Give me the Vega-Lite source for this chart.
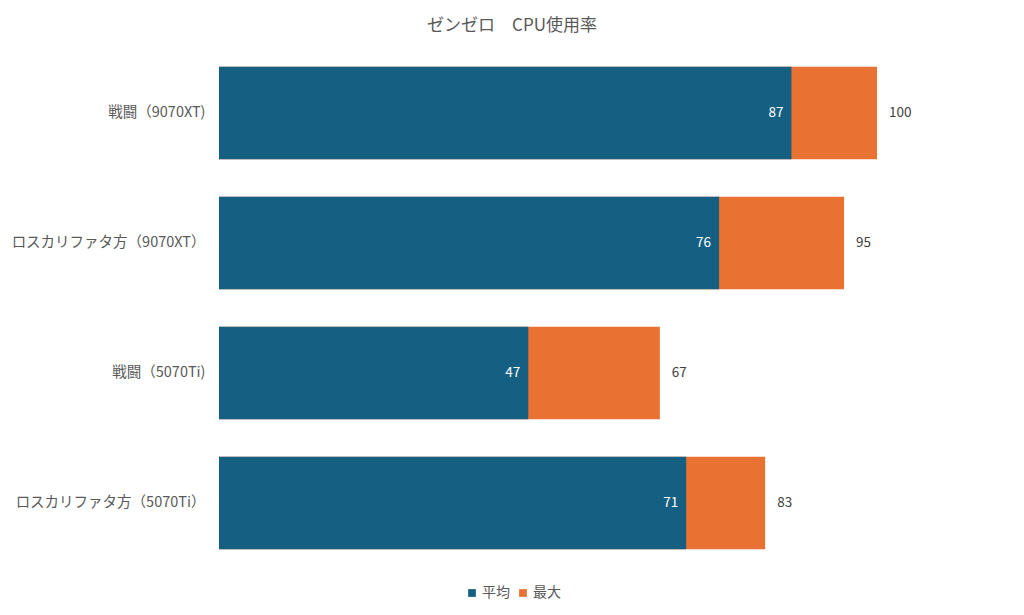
{
  "$schema": "https://vega.github.io/schema/vega-lite/v6.json",
  "description": "ゼンゼロ CPU使用率: average and maximum per scene and GPU.",
  "autosize": {"type": "none"},
  "width": 658,
  "height": 520,
  "padding": {"left": 219, "top": 48, "right": 147, "bottom": 47},
  "background": "white",
  "title": {
    "text": "ゼンゼロ　CPU使用率",
    "font": "Noto Sans CJK JP",
    "fontSize": 17,
    "fontWeight": "normal",
    "color": "#595959",
    "anchor": "middle",
    "dx": -36,
    "offset": 13
  },
  "data": {
    "values": [
      {"scene": "戦闘（9070XT)", "series": "最大", "value": 100},
      {"scene": "ロスカリファタ方（9070XT）", "series": "最大", "value": 95},
      {"scene": "戦闘（5070Ti)", "series": "最大", "value": 67},
      {"scene": "ロスカリファタ方（5070Ti）", "series": "最大", "value": 83},
      {"scene": "戦闘（9070XT)", "series": "平均", "value": 87},
      {"scene": "ロスカリファタ方（9070XT）", "series": "平均", "value": 76},
      {"scene": "戦闘（5070Ti)", "series": "平均", "value": 47},
      {"scene": "ロスカリファタ方（5070Ti）", "series": "平均", "value": 71}
    ]
  },
  "encoding": {
    "y": {
      "field": "scene",
      "type": "nominal",
      "sort": null,
      "scale": {"paddingInner": 0.29, "paddingOuter": 0.145},
      "axis": {
        "title": null,
        "ticks": false,
        "domain": false,
        "labelPadding": 14,
        "labelLimit": 300,
        "labelFont": "Noto Sans CJK JP",
        "labelFontSize": 14.5,
        "labelColor": "#595959"
      }
    },
    "x": {
      "field": "value",
      "type": "quantitative",
      "scale": {"domain": [0, 100], "nice": false},
      "axis": null
    }
  },
  "layer": [
    {
      "mark": {"type": "bar"},
      "encoding": {
        "x": {"field": "value", "type": "quantitative", "stack": null, "scale": {"domain": [0, 100], "nice": false}, "axis": null},
        "color": {
          "field": "series",
          "type": "nominal",
          "scale": {"domain": ["平均", "最大"], "range": ["#156082", "#E97132"]},
          "legend": {
            "title": null,
            "orient": "none",
            "direction": "horizontal",
            "legendX": 246,
            "legendY": 538,
            "symbolType": "square",
            "symbolSize": 60,
            "symbolStrokeWidth": 0,
            "labelFont": "Noto Sans CJK JP",
            "labelFontSize": 14,
            "labelColor": "#595959",
            "labelOffset": 3,
            "columnPadding": 6
          }
        }
      }
    },
    {
      "transform": [{"filter": "datum.series === '平均'"}],
      "mark": {
        "type": "text",
        "align": "right",
        "baseline": "middle",
        "dx": -8,
        "font": "Noto Sans CJK JP",
        "fontSize": 13.5,
        "color": "white"
      },
      "encoding": {"text": {"field": "value", "type": "quantitative"}}
    },
    {
      "transform": [{"filter": "datum.series === '最大'"}],
      "mark": {
        "type": "text",
        "align": "left",
        "baseline": "middle",
        "dx": 12,
        "font": "Noto Sans CJK JP",
        "fontSize": 13.5,
        "color": "#404040"
      },
      "encoding": {"text": {"field": "value", "type": "quantitative"}}
    }
  ],
  "config": {"view": {"stroke": null}}
}
